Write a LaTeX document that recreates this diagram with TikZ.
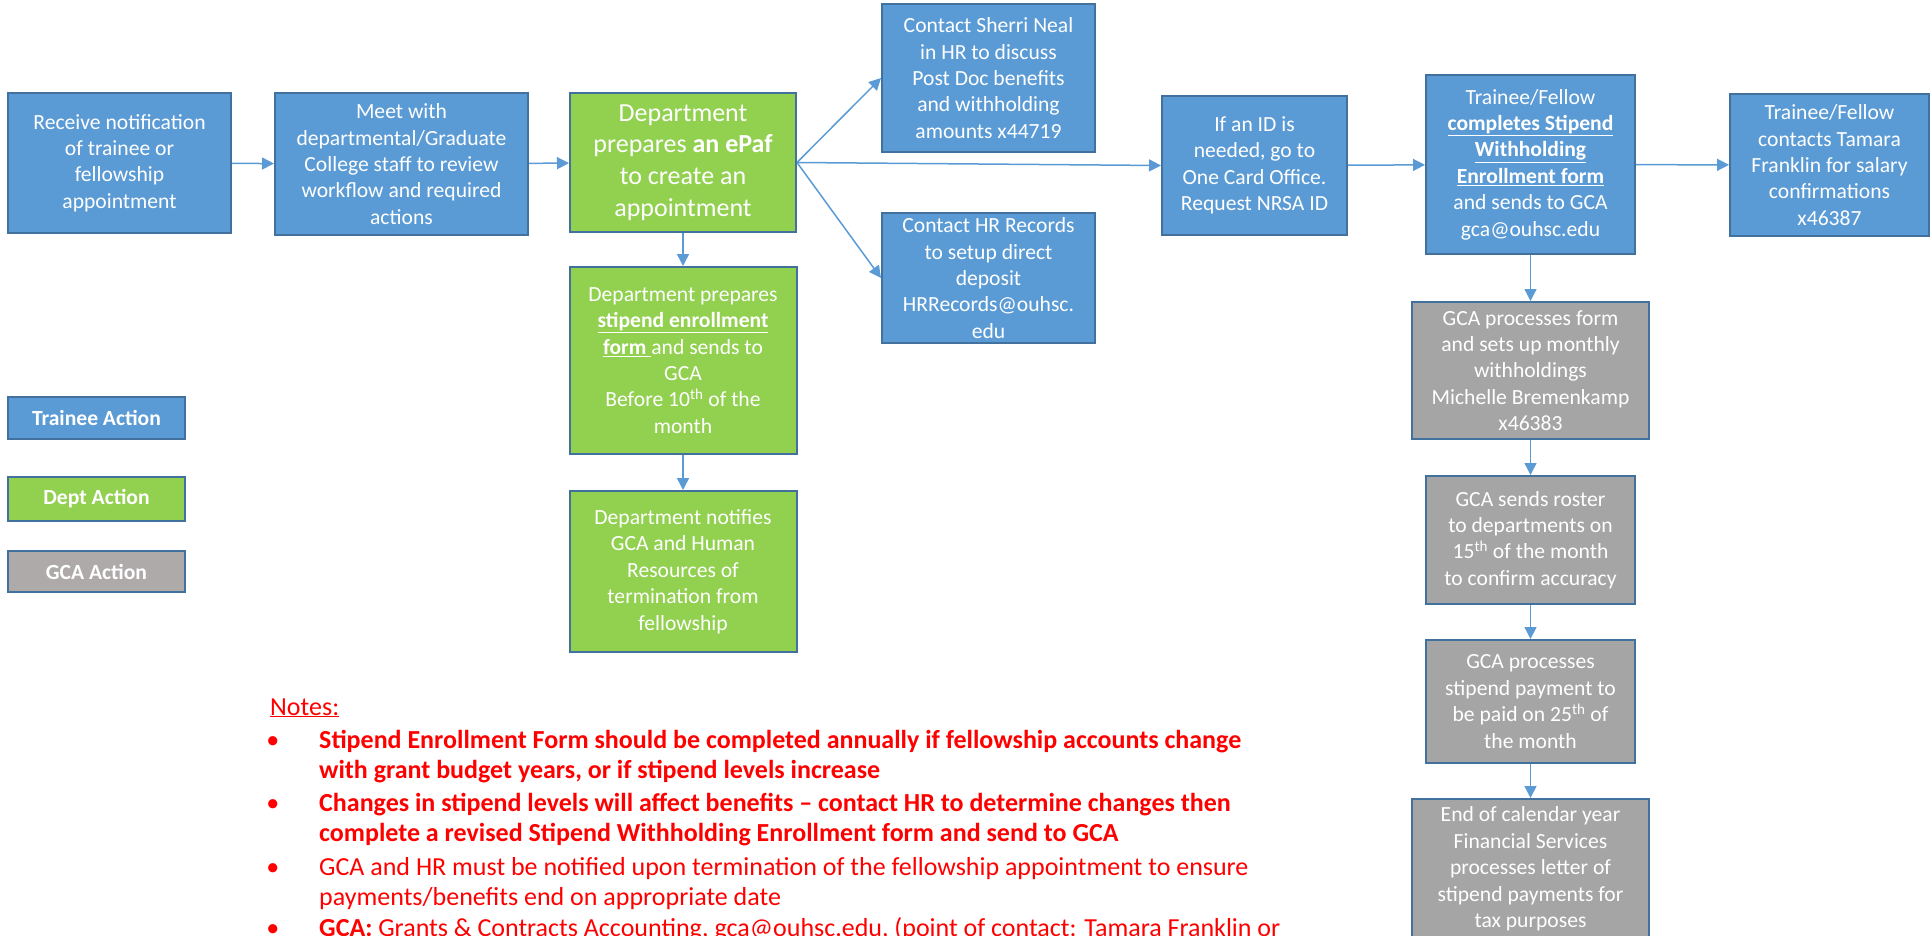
\documentclass[tikz,border=0pt]{standalone}
\usepackage{fontspec}
\setmainfont{Carlito}
\usepackage{tikz}
\usetikzlibrary{arrows.meta}
\definecolor{tblue}{HTML}{5B9BD5}
\definecolor{tedge}{HTML}{41719C}
\definecolor{dgreen}{HTML}{92D050}
\definecolor{ggray}{HTML}{A5A5A5}
\definecolor{lgray}{HTML}{AEAAAA}
\definecolor{nred}{HTML}{FF0000}
\tikzset{bx/.style={draw=tedge,line width=2pt,text=white,align=center,inner sep=0pt,font=\fontsize{21.6}{26.4}\selectfont}}
\tikzset{tr/.style={bx,fill=tblue}}
\tikzset{dp/.style={bx,fill=dgreen}}
\tikzset{gc/.style={bx,fill=ggray}}
\tikzset{ar/.style={draw=tblue,line width=1.5pt,-{Triangle[length=12pt,width=12pt]}}}
\tikzset{nt/.style={text=nred,inner sep=0pt,align=left,font=\fontsize{26}{30}\selectfont}}

\begin{document}
\begin{tikzpicture}[x=1pt,y=-1pt]
    \useasboundingbox (0,0) rectangle (1932,935);
    \clip (0,0) rectangle (1932,935);
    \node[tr,minimum width=223pt,minimum height=140pt] (recv) at (119.5,163)
      {Receive notification\\of trainee or\\fellowship\\appointment};
    \node[tr,minimum width=253pt,minimum height=142pt] (meet) at (401.5,164)
      {Meet with\\departmental/Graduate\\College staff to review\\workflow and required\\actions};
    \node[dp,minimum width=226pt,minimum height=139pt,font=\fontsize{26}{31.6}\selectfont] (epaf) at (683,162.5)
      {Department\\prepares \textbf{an ePaf}\\to create an\\appointment};
    \node[tr,minimum width=213pt,minimum height=148pt] (neal) at (988.5,78)
      {Contact Sherri Neal\\in HR to discuss\\Post Doc benefits\\and withholding\\amounts x44719};
    \node[tr,minimum width=213pt,minimum height=130pt] (hrrec) at (988.5,278)
      {Contact HR Records\\to setup direct\\deposit\\HRRecords@ouhsc.\\edu};
    \node[tr,minimum width=185pt,minimum height=139pt] (card) at (1254.5,165.5)
      {If an ID is\\needed, go to\\One Card Office.\\Request NRSA ID};
    \node[tr,minimum width=209pt,minimum height=179pt] (swef) at (1530.5,164.5)
      {Trainee/Fellow\\\textbf{\underline{completes Stipend}}\\\textbf{\underline{Withholding}}\\\textbf{\underline{Enrollment form}}\\and sends to GCA\\gca@ouhsc.edu};
    \node[tr,minimum width=199pt,minimum height=142pt] (conf) at (1829.5,165)
      {Trainee/Fellow\\contacts Tamara\\Franklin for salary\\confirmations\\x46387};
    \node[dp,minimum width=227pt,minimum height=187pt] (form) at (683,360.5)
      {Department prepares\\\textbf{\underline{stipend enrollment}}\\\textbf{\underline{form\ }}and sends to\\GCA\\Before 10\textsuperscript{th} of the\\month};
    \node[dp,minimum width=227pt,minimum height=161pt] (term) at (683,571.5)
      {Department notifies\\GCA and Human\\Resources of\\termination from\\fellowship};
    \node[gc,minimum width=237pt,minimum height=137pt] (gproc) at (1530.5,370.5)
      {GCA processes form\\and sets up monthly\\withholdings\\Michelle Bremenkamp\\x46383};
    \node[gc,minimum width=209pt,minimum height=128pt] (groster) at (1530.5,540)
      {GCA sends roster\\to departments on\\15\textsuperscript{th} of the month\\to confirm accuracy};
    \node[gc,minimum width=209pt,minimum height=123pt] (gpay) at (1530.5,701.5)
      {GCA processes\\stipend payment to\\be paid on 25\textsuperscript{th} of\\the month};
    \node[gc,minimum width=237pt,minimum height=140pt] (gtax) at (1530.5,869)
      {End of calendar year\\Financial Services\\processes letter of\\stipend payments for\\tax purposes};
    \node[tr,minimum width=177pt,minimum height=42pt] (legt) at (96.5,418) {\textbf{Trainee Action}};
    \node[dp,minimum width=177pt,minimum height=44pt] (legd) at (96.5,499) {\textbf{Dept Action}};
    \node[bx,fill=lgray,minimum width=177pt,minimum height=41pt] (legg) at (96.5,571.5) {\textbf{GCA Action}};
    \draw[ar] (recv) -- (meet);
    \draw[ar] (meet) -- (epaf);
    \draw[ar] (epaf.east) -- (neal.west);
    \draw[ar] (epaf.east) -- (hrrec.west);
    \draw[ar] (epaf.east) -- (card.west);
    \draw[ar] (card) -- (swef);
    \draw[ar] (swef) -- (conf);
    \draw[ar] (epaf) -- (form);
    \draw[ar] (form) -- (term);
    \draw[ar] (swef) -- (gproc);
    \draw[ar] (gproc) -- (groster);
    \draw[ar] (groster) -- (gpay);
    \draw[ar] (gpay) -- (gtax);
    \node[nt,anchor=base west] (notes) at (270,715) {\underline{Notes:}};
    \node[nt,anchor=base west] (n1) at (319,778)
      {\llap{\textbullet\hspace{40pt}}\textbf{Stipend Enrollment Form should be completed annually if fellowship accounts change}\\
       \textbf{with grant budget years, or if stipend levels increase}};
    \node[nt,anchor=base west] (n2) at (319,841)
      {\llap{\textbullet\hspace{40pt}}\textbf{Changes in stipend levels will affect benefits -- contact HR to determine changes then}\\
       \textbf{complete a revised Stipend Withholding Enrollment form and send to GCA}};
    \node[nt,anchor=base west] (n3) at (319,905)
      {\llap{\textbullet\hspace{40pt}}GCA and HR must be notified upon termination of the fellowship appointment to ensure\\
       payments/benefits end on appropriate date};
    \node[nt,anchor=base west] (n4) at (319,936)
      {\llap{\textbullet\hspace{40pt}}\textbf{GCA:} Grants \& Contracts Accounting, gca@ouhsc.edu, (point of contact: Tamara Franklin or};
\end{tikzpicture}
\end{document}
